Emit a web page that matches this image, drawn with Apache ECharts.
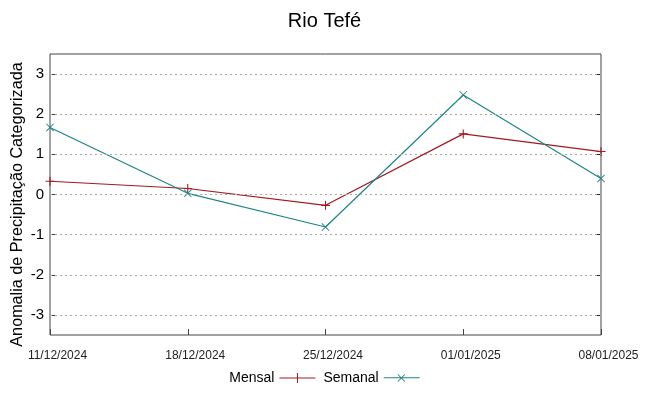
<!DOCTYPE html>
<html>
<head>
<meta charset="utf-8">
<script src="https://cdn.jsdelivr.net/npm/echarts@6/dist/echarts.min.js"></script>
<style>html,body{margin:0;padding:0;background:#fff;}#c{width:649px;height:396px;}</style>
</head>
<body>
<div id="c"></div>
<script>
const categories = ['11/12/2024', '18/12/2024', '25/12/2024', '01/01/2025', '08/01/2025'];
const mensal = [0.33, 0.15, -0.27, 1.51, 1.07];
const semanal = [1.67, 0.03, -0.81, 2.48, 0.40];
const yTicks = [-3, -2, -1, 0, 1, 2, 3];

const FONT = 'Liberation Sans';
const plusPath = 'path://M0,4.4h10v1.2h-10z M4.4,0h1.2v10h-1.2z';
const crossPath = 'path://M0.8,0L10,9.2L9.2,10L0,0.8z M9.2,0L10,0.8L0.8,10L0,9.2z';
const legPlus = 'path://M0,4.5h36v1h-36z M17.5,0h1v10h-1z';
const legCross = 'path://M0,4.5h36v1h-36z M14.5,1.5L21.5,8.5L20.8,9.2L13.8,2.2z M20.8,1.5L21.5,2.2L14.5,9.2L13.8,8.5z';

const chart = echarts.init(document.getElementById('c'));
chart.setOption({
  animation: false,
  backgroundColor: '#fff',
  title: {
    text: 'Rio Tefé', left: 'center', top: 6,
    textStyle: {fontFamily: FONT, fontSize: 20, fontWeight: 'normal', color: '#000'}
  },
  legend: {
    bottom: 6, left: 'center', align: 'right', itemGap: 8, itemWidth: 36, itemHeight: 10,
    textStyle: {fontFamily: FONT, fontSize: 14, color: '#000'},
    data: [{name: 'Mensal', icon: legPlus}, {name: 'Semanal', icon: legCross}]
  },
  grid: {left: 50, right: 48, top: 54, bottom: 61, show: true, borderColor: '#444', borderWidth: 1,
         containLabel: false, outerBoundsMode: 'none'},
  xAxis: {
    type: 'category', data: categories, boundaryGap: false,
    axisLine: {show: false, onZero: false},
    axisTick: {show: true, inside: true, length: 6, lineStyle: {color: '#444'}},
    axisLabel: {fontFamily: FONT, fontSize: 12, color: '#222', margin: 15,
                padding: [0, 0, 0, 15], showMinLabel: true, showMaxLabel: true, interval: 0},
    splitLine: {show: false}
  },
  yAxis: [{
    type: 'value', min: -3.5, max: 3.5,
    name: 'Anomalia de Precipitação Categorizada', nameLocation: 'middle', nameGap: 24, nameRotate: 90,
    nameMoveOverlap: false,
    nameTextStyle: {fontFamily: FONT, fontSize: 16.2, color: '#000', padding: [0, 20, 0, 0]},
    axisLine: {show: false},
    axisTick: {show: true, inside: true, length: 6, customValues: yTicks, lineStyle: {color: '#444'}},
    axisLabel: {fontFamily: FONT, fontSize: 15, color: '#000', margin: 6, customValues: yTicks},
    splitLine: {show: false}
  }, {
    type: 'value', min: -3.5, max: 3.5, position: 'right',
    axisLine: {show: false},
    axisTick: {show: true, inside: true, length: 6, customValues: yTicks, lineStyle: {color: '#222'}},
    axisLabel: {show: false, customValues: yTicks},
    splitLine: {show: false}
  }],
  series: [{
    name: 'Mensal', type: 'line', data: mensal,
    symbol: plusPath, symbolSize: 9, showAllSymbol: true,
    lineStyle: {color: '#a31a22', width: 1.2},
    itemStyle: {color: '#a31a22'},
    markLine: {
      silent: true, symbol: 'none', label: {show: false}, animation: false,
      lineStyle: {color: '#a8a8a8', type: [2, 3], width: 1},
      data: yTicks.map(v => ({yAxis: v}))
    },
    z: 3
  }, {
    name: 'Semanal', type: 'line', data: semanal,
    symbol: crossPath, symbolSize: 8, showAllSymbol: true,
    lineStyle: {color: '#1f8585', width: 1.2},
    itemStyle: {color: '#1f8585'},
    z: 4
  }]
});
</script>
</body>
</html>
